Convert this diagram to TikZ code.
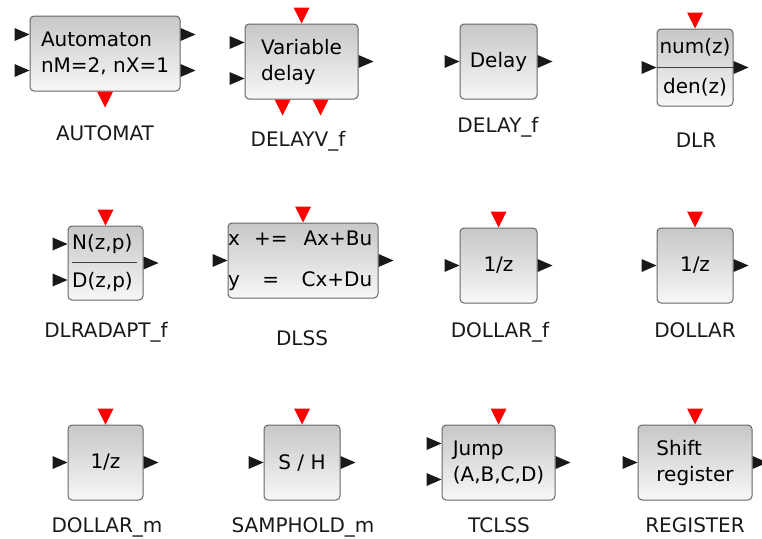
\documentclass[tikz,border=0pt]{standalone}
\usepackage{fontspec}
\setmainfont{DejaVu Sans}
\usetikzlibrary{positioning,calc}

\tikzset{
  blk/.style={draw=black!60, line width=1pt, rounded corners=4pt, top color=black!22, bottom color=black!3,
              minimum height=75pt, inner sep=0pt, align=left, font=\fontsize{20}{26}\selectfont},
  txt/.style={inner sep=0pt, font=\fontsize{20}{26}\selectfont},
  lbl/.style={anchor=base, inner sep=0pt, text=black!90, font=\fontsize{20}{24}\selectfont},
  inport/.pic={\fill[black!90] (-15,-6.5) -- (0,0) -- (-15,6.5) -- cycle;},
  outport/.pic={\fill[black!90] (0,-6.5) -- (15,0) -- (0,6.5) -- cycle;},
  evin/.pic={\fill[red] (-8,-16) -- (8,-16) -- (0,0) -- cycle;},
  evout/.pic={\fill[red] (-8,0) -- (8,0) -- (0,16) -- cycle;}
}

\begin{document}
\begin{tikzpicture}[x=1pt,y=-1pt]
\useasboundingbox (0,0) rectangle (762,538);

% first row
\node[blk, minimum width=150pt] (automat) at (105,53.5) {Automaton\\nM=2, nX=1};
\node[blk, minimum width=113pt] (delayvf) at (301.5,61.5) {Variable\\delay};
\node[blk, minimum width=77pt] (delayf) at (498.5,61.5) {Delay};
\node[blk, minimum width=76pt, minimum height=77pt] (dlr) at (695,67.5) {};
\draw[black!75, line width=1pt] (dlr.west) -- (dlr.east);
\node[txt] (dlrnum) at (695,47) {num(z)};
\node[txt] (dlrden) at (695,87) {den(z)};

% second row
\node[blk, minimum width=75pt, minimum height=74pt] (dlradapt) at (105.5,263) {};
\node[txt, anchor=west] (dlrnumd) at (72,243.5) {N(z,p)};
\node[txt, anchor=west] (dlrdend) at (72,281.5) {D(z,p)};
\draw[black!75, line width=1pt] (72,262) -- (137,262);
\node[blk, minimum width=150pt] (dlss) at (303,260.5) {};
\node[txt, anchor=west] (dlsseq) at (228,260.5)
  {\begin{tabular}{@{}l@{\hspace{14pt}}c@{\hspace{14pt}}r@{}}x & += & Ax+Bu\\[15pt] y & = & Cx+Du\end{tabular}};
\node[blk, minimum width=77pt] (dollarf) at (498.5,265.5) {1/z};
\node[blk, minimum width=76pt] (dollar) at (695,265.5) {1/z};

% third row
\node[blk, minimum width=75pt] (dollarm) at (105.5,462.5) {1/z};
\node[blk, minimum width=76pt] (samphold) at (302,462.5) {S / H};
\node[blk, minimum width=113pt] (tclss) at (498.5,462.5) {Jump\\(A,B,C,D)};
\node[blk, minimum width=114pt] (register) at (695,462.5) {Shift\\register};

% ports
\foreach \b in {automat,delayvf,dlradapt,tclss} {
  \pic at ($(\b.west)+(0,-19)$) {inport};
  \pic at ($(\b.west)+(0,17)$) {inport};
}
\foreach \b in {delayf,dlr,dlss,dollarf,dollar,dollarm,samphold,register}
  \pic at (\b.west) {inport};
\pic at ($(automat.east)+(0,-19)$) {outport};
\pic at ($(automat.east)+(0,17)$) {outport};
\foreach \b in {delayvf,delayf,dlr,dlradapt,dlss,dollarf,dollar,dollarm,samphold,tclss,register}
  \pic at (\b.east) {outport};
\foreach \b in {delayvf,dlr,dlradapt,dlss,dollarf,dollar,dollarm,samphold,tclss,register}
  \pic at (\b.north) {evin};
\pic at (automat.south) {evout};
\pic at ($(delayvf.south)+(-19,0)$) {evout};
\pic at ($(delayvf.south)+(19,0)$) {evout};

% block names
\node[lbl] (automatlbl) at (105,140) {AUTOMAT};
\node[lbl] (delayvflbl) at (298,146) {DELAYV\_f};
\node[lbl] (delayflbl) at (498,132) {DELAY\_f};
\node[lbl] (dlrlbl) at (696,147) {DLR};
\node[lbl] (dlradaptlbl) at (106,337) {DLRADAPT\_f};
\node[lbl] (dlsslbl) at (302,345) {DLSS};
\node[lbl] (dollarflbl) at (500,337) {DOLLAR\_f};
\node[lbl] (dollarlbl) at (695,337) {DOLLAR};
\node[lbl] (dollarmlbl) at (107,532) {DOLLAR\_m};
\node[lbl] (sampholdlbl) at (303,532) {SAMPHOLD\_m};
\node[lbl] (tclsslbl) at (499,532) {TCLSS};
\node[lbl] (registerlbl) at (695,532) {REGISTER};
\end{tikzpicture}
\end{document}
